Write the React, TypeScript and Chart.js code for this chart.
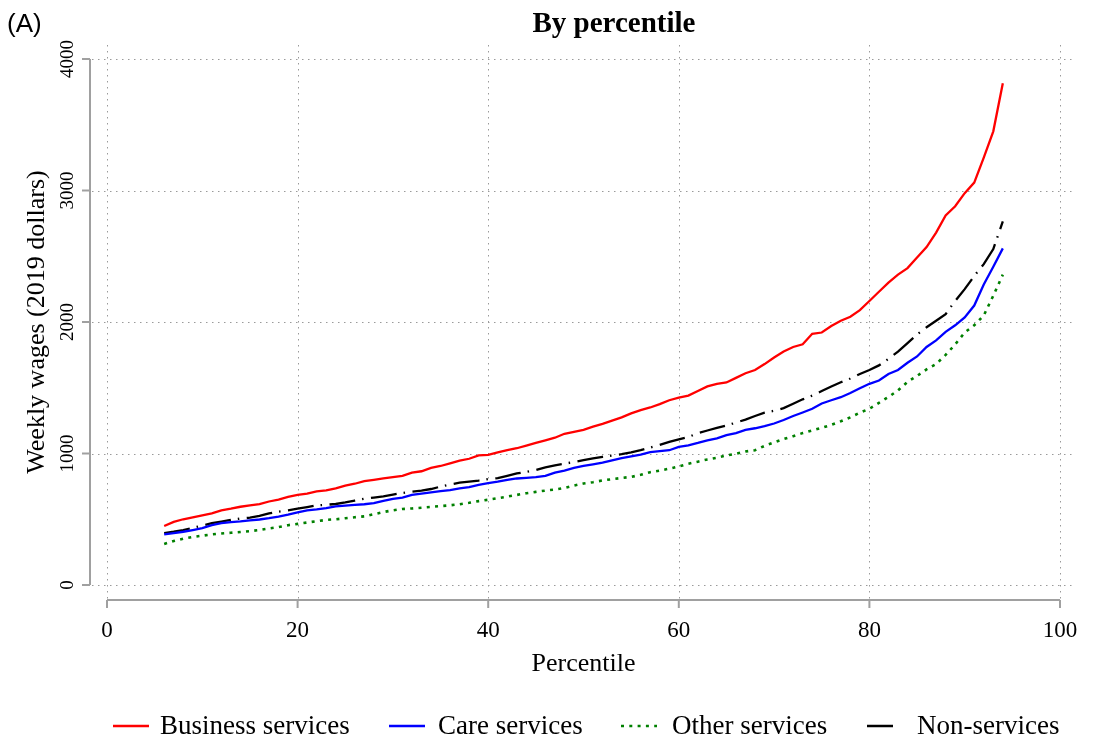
import React, { useEffect, useRef } from "react";
import { Chart, registerables } from "chart.js";

Chart.register(...registerables);

// Percentile positions along the wage distribution
const percentiles = [
  6, 7, 8, 9, 10, 11, 12, 13, 14, 15, 16, 17, 18, 19, 20, 21, 22, 23, 24, 25,
  26, 27, 28, 29, 30, 31, 32, 33, 34, 35, 36, 37, 38, 39, 40, 41, 42, 43, 44, 45,
  46, 47, 48, 49, 50, 51, 52, 53, 54, 55, 56, 57, 58, 59, 60, 61, 62, 63, 64, 65,
  66, 67, 68, 69, 70, 71, 72, 73, 74, 75, 76, 77, 78, 79, 80, 81, 82, 83, 84, 85,
  86, 87, 88, 89, 90, 91, 92, 93, 94,
];

// Weekly wages in 2019 dollars
const businessServices = [
  449, 480, 500, 515, 530, 545, 568, 580, 595, 605, 615, 635, 650, 670, 685, 695, 712, 720, 735, 755,
  770, 790, 800, 810, 820, 830, 855, 865, 890, 905, 925, 945, 960, 985, 990, 1008, 1025, 1040, 1060, 1080,
  1100, 1120, 1150, 1165, 1180, 1205, 1225, 1250, 1275, 1305, 1330, 1350, 1375, 1405, 1425, 1440, 1475, 1510, 1530, 1540,
  1575, 1610, 1635, 1680, 1730, 1775, 1810, 1830, 1910, 1920, 1970, 2010, 2040, 2090, 2160, 2230, 2300, 2360, 2410, 2490,
  2570, 2680, 2810, 2880, 2980, 3060, 3250, 3450, 3815,
];

const careServices = [
  385, 395, 405, 418, 432, 455, 470, 478, 484, 492, 498, 508, 520, 535, 552, 568, 575, 585, 598, 604,
  610, 614, 622, 640, 655, 665, 685, 695, 705, 714, 722, 735, 745, 762, 774, 786, 800, 810, 815, 820,
  830, 855, 870, 890, 905, 918, 930, 948, 965, 978, 992, 1010, 1018, 1025, 1050, 1062, 1080, 1100, 1115, 1140,
  1155, 1180, 1192, 1208, 1228, 1255, 1285, 1312, 1340, 1380, 1405, 1428, 1460, 1496, 1530, 1555, 1605, 1635, 1690, 1738,
  1810, 1860, 1925, 1975, 2035, 2125, 2285, 2420, 2560,
];

const otherServices = [
  312, 335, 352, 365, 375, 385, 392, 397, 403, 410, 418, 430, 440, 455, 465, 475, 485, 495, 500, 508,
  515, 522, 538, 555, 568, 578, 582, 588, 594, 600, 606, 614, 625, 638, 648, 660, 672, 685, 698, 708,
  718, 726, 738, 756, 772, 782, 795, 805, 814, 822, 838, 858, 870, 885, 902, 922, 938, 955, 968, 985,
  998, 1015, 1025, 1058, 1085, 1110, 1132, 1155, 1175, 1195, 1218, 1245, 1275, 1310, 1340, 1385, 1430, 1480, 1545, 1590,
  1640, 1680, 1750, 1830, 1920, 1975, 2050, 2200, 2360,
];

const nonServices = [
  395, 405, 418, 435, 452, 470, 482, 495, 505, 512, 525, 545, 558, 568, 580, 592, 605, 610, 616, 628,
  642, 656, 665, 674, 688, 700, 710, 718, 730, 748, 765, 778, 786, 794, 806, 812, 830, 848, 860, 875,
  895, 910, 922, 935, 950, 963, 975, 985, 995, 1008, 1025, 1045, 1065, 1088, 1108, 1125, 1155, 1175, 1195, 1212,
  1235, 1258, 1285, 1310, 1325, 1345, 1378, 1412, 1440, 1475, 1510, 1542, 1570, 1605, 1635, 1670, 1720, 1775, 1840, 1905,
  1960, 2010, 2060, 2160, 2250, 2350, 2440, 2555, 2765,
];

const xTicks = [0, 20, 40, 60, 80, 100];
const yTicks = [0, 1000, 2000, 3000, 4000];

const seriesNames = ["Business services", "Care services", "Other services", "Non-services"];
const seriesValues = [businessServices, careServices, otherServices, nonServices];
const seriesColors = ["#ff0000", "#0000ff", "#008000", "#000000"];
const seriesDashes: number[][] = [[], [], [3, 5.3], [26, 7, 1.5, 7.5]];
const seriesWidths = [2.3, 2.3, 2.6, 2.3];

const SERIF = '"Liberation Serif", "Times New Roman", serif';
const SANS = '"Liberation Sans", Arial, sans-serif';
const AXIS_GRAY = "#a0a0a0";

const basePlot = {
  id: "basePlot",
  beforeDatasetsDraw(chart: any) {
    const ctx = chart.ctx as CanvasRenderingContext2D;
    const xs = chart.scales.x;
    const ys = chart.scales.y;
    const x0 = xs.getPixelForValue(0);
    const x1 = xs.getPixelForValue(100);
    const y0 = ys.getPixelForValue(0);
    const y1 = ys.getPixelForValue(4000);
    const padX = 15;
    const padY = 14;

    ctx.save();
    // dotted reference grid across the full plot region
    ctx.strokeStyle = "#9a9a9a";
    ctx.lineWidth = 1;
    ctx.setLineDash([1.5, 4.5]);
    yTicks.forEach((v) => {
      const y = Math.round(ys.getPixelForValue(v)) + 0.5;
      ctx.beginPath();
      ctx.moveTo(x0 - padX, y);
      ctx.lineTo(x1 + padX, y);
      ctx.stroke();
    });
    xTicks.forEach((v) => {
      const x = Math.round(xs.getPixelForValue(v)) + 0.5;
      ctx.beginPath();
      ctx.moveTo(x, y1 - padY);
      ctx.lineTo(x, y0 + padY);
      ctx.stroke();
    });
    ctx.setLineDash([]);

    // axes, detached from the data region
    ctx.strokeStyle = AXIS_GRAY;
    ctx.lineWidth = 2;
    const axisX = x0 - padX - 2;
    ctx.beginPath();
    ctx.moveTo(axisX, y1);
    ctx.lineTo(axisX, y0);
    ctx.stroke();
    yTicks.forEach((v) => {
      const y = ys.getPixelForValue(v);
      ctx.beginPath();
      ctx.moveTo(axisX - 8, y);
      ctx.lineTo(axisX, y);
      ctx.stroke();
    });
    const axisY = y0 + padY + 1;
    ctx.beginPath();
    ctx.moveTo(x0, axisY);
    ctx.lineTo(x1, axisY);
    ctx.stroke();
    xTicks.forEach((v) => {
      const x = xs.getPixelForValue(v);
      ctx.beginPath();
      ctx.moveTo(x, axisY);
      ctx.lineTo(x, axisY + 8);
      ctx.stroke();
    });

    // tick labels
    ctx.fillStyle = "#000";
    ctx.font = `23px ${SERIF}`;
    ctx.textAlign = "center";
    ctx.textBaseline = "middle";
    xTicks.forEach((v) => {
      ctx.fillText(String(v), xs.getPixelForValue(v), axisY + 31);
    });
    ctx.font = `19px ${SERIF}`;
    ctx.textBaseline = "alphabetic";
    yTicks.forEach((v) => {
      ctx.save();
      ctx.translate(axisX - 17, ys.getPixelForValue(v));
      ctx.rotate(-Math.PI / 2);
      ctx.fillText(String(v), 0, 0);
      ctx.restore();
    });

    // axis titles
    ctx.font = `26px ${SERIF}`;
    ctx.fillText("Percentile", (x0 + x1) / 2, 671);
    ctx.save();
    ctx.translate(44, (y0 + y1) / 2);
    ctx.rotate(-Math.PI / 2);
    ctx.fillText("Weekly wages (2019 dollars)", 0, 0);
    ctx.restore();

    // panel title and tag
    ctx.font = `bold 29px ${SERIF}`;
    ctx.fillText("By percentile", 614, 32);
    ctx.font = `26px ${SANS}`;
    ctx.textAlign = "left";
    ctx.fillText("(A)", 7, 32);

    // legend along the bottom
    const legendY = 726;
    const lineStarts = [113, 389, 621, 867];
    const lineEnds = [149, 425, 657, 896];
    const textStarts = [160, 438, 672, 917];
    ctx.font = `27px ${SERIF}`;
    ctx.textBaseline = "middle";
    seriesNames.forEach((name, i) => {
      ctx.strokeStyle = seriesColors[i];
      ctx.lineWidth = 2.5;
      ctx.lineCap = "butt";
      ctx.setLineDash(seriesDashes[i]);
      ctx.beginPath();
      ctx.moveTo(lineStarts[i], legendY);
      ctx.lineTo(lineEnds[i], legendY);
      ctx.stroke();
      ctx.setLineDash([]);
      ctx.fillStyle = "#000";
      ctx.fillText(name, textStarts[i], legendY + 1);
    });
    ctx.restore();
  },
};

export default function App() {
  const canvasRef = useRef<HTMLCanvasElement | null>(null);

  useEffect(() => {
    if (!canvasRef.current) return;
    const chart = new Chart(canvasRef.current, {
      type: "line",
      data: {
        datasets: seriesNames.map((name, i) => ({
          label: name,
          data: percentiles.map((p, j) => ({ x: p, y: seriesValues[i][j] })),
          borderColor: seriesColors[i],
          backgroundColor: seriesColors[i],
          borderWidth: seriesWidths[i],
          borderDash: seriesDashes[i],
          borderCapStyle: "butt",
          pointRadius: 0,
          tension: 0,
          fill: false,
        })),
      },
      options: {
        animation: false,
        responsive: false,
        events: [],
        layout: { padding: { left: 107, right: 34, top: 59, bottom: 159 } },
        scales: {
          x: { type: "linear", min: 0, max: 100, display: false },
          y: { type: "linear", min: 0, max: 4000, display: false },
        },
        plugins: {
          legend: { display: false },
          title: { display: false },
          tooltip: { enabled: false },
        },
      },
      plugins: [basePlot],
    });
    return () => chart.destroy();
  }, []);

  return (
    <div style={{ position: "fixed", left: 0, top: 0, width: 1094, height: 744, background: "#fff" }}>
      <canvas ref={canvasRef} width={1094} height={744} style={{ display: "block" }} />
    </div>
  );
}
